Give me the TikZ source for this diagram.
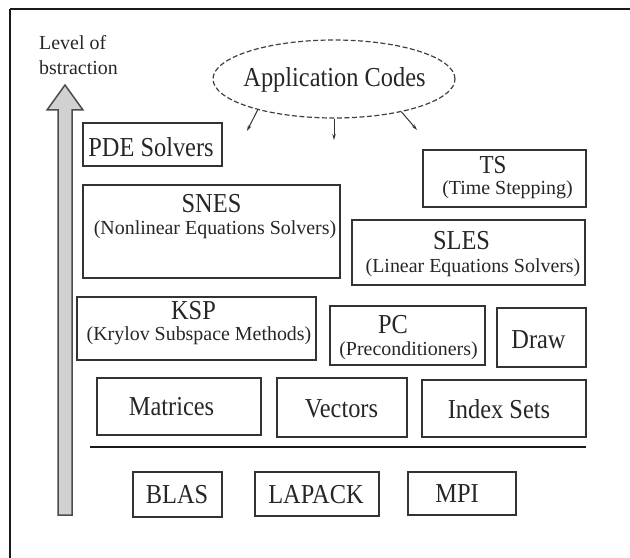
\documentclass[tikz,border=0pt]{standalone}
\usepackage{fontspec}
\setmainfont{Liberation Serif}
\newfontfamily\tallserif[FakeStretch=0.89]{Liberation Serif}
\usetikzlibrary{shapes.geometric,arrows.meta}

\tikzset{
  layer/.style 2 args={draw=black!80, line width=1.5bp, rectangle, inner sep=0pt,
    minimum width=#1, minimum height=#2},
  title/.style={anchor=base, inner sep=0pt, text=black!85,
    font=\tallserif\fontsize{27.5}{30}\selectfont},
  subtitle/.style={anchor=base, inner sep=0pt, text=black!85,
    font=\fontsize{20}{22}\selectfont},
  axislabel/.style={anchor=base west, inner sep=0pt, text=black!85,
    font=\fontsize{20}{22}\selectfont},
  appcall/.style={-{Stealth[length=6bp,width=3.5bp]}, line width=1bp, draw=black!80},
}

\begin{document}
\begin{tikzpicture}[x=1bp, y=-1bp]
  \useasboundingbox (0,0) rectangle (630,558);

  % frame edges
  \draw[line width=2bp, black!90] (10,9) -- (630,9);
  \draw[line width=1.5bp, black!90] (10,9) -- (10,558);

  % abstraction axis
  \node[axislabel] (lvl1) at (39,50) {Level of};
  \node[axislabel] (lvl2) at (39,75) {bstraction};
  \filldraw[fill=black!18, draw=black!70, line width=1.5bp, line join=miter]
    (58,515) -- (58,110) -- (47,110) -- (65,85) -- (83,110) -- (72,110) -- (72,515) -- cycle;

  % application codes
  \node[ellipse, draw=black!75, dashed, dash pattern=on 5bp off 2.5bp, line width=1.2bp,
        minimum width=242bp, minimum height=78bp, inner sep=0pt] (app) at (334,79) {};
  \node[title] (apptxt) at (334.5,87) {Application Codes};
  \coordinate (appL) at (247,131);
  \coordinate (appM) at (334,140);
  \coordinate (appR) at (417,130);
  \draw[appcall] (app.202) -- (appL);
  \draw[appcall] (app.south) -- (appM);
  \draw[appcall] (app.334) -- (appR);

  % solver layers
  \node[layer={139bp}{43bp}] (pde) at (152.5,144.5) {};
  \node[title] (pdet) at (151,157) {PDE Solvers};

  \node[layer={257bp}{93bp}] (snes) at (211.5,231.5) {};
  \node[title] (snest) at (211.5,213) {SNES};
  \node[subtitle] (sness) at (215,235) {(Nonlinear Equations Solvers)};

  \node[layer={163bp}{57bp}] (ts) at (504.5,178.5) {};
  \node[title, font=\tallserif\fontsize{26}{28}\selectfont] (tst) at (493,174) {TS};
  \node[subtitle] (tss) at (507.5,195) {(Time Stepping)};

  \node[layer={233bp}{65bp}] (sles) at (468.5,252.5) {};
  \node[title] (slest) at (461.5,250) {SLES};
  \node[subtitle] (sless) at (473,272) {(Linear Equations Solvers)};

  \node[layer={239bp}{63bp}] (ksp) at (196.5,328.5) {};
  \node[title] (kspt) at (193.5,319) {KSP};
  \node[subtitle] (ksps) at (199,340) {(Krylov Subspace Methods)};

  \node[layer={155bp}{59bp}] (pc) at (407.5,335.5) {};
  \node[title] (pct) at (393,333) {PC};
  \node[subtitle] (pcs) at (408.5,355) {(Preconditioners)};

  \node[layer={89bp}{59bp}] (drw) at (541.5,337.5) {};
  \node[title] (drwt) at (538.5,348) {Draw};

  % data objects
  \node[layer={164bp}{57bp}] (mat) at (179,406.5) {};
  \node[title] (matt) at (171.5,415) {Matrices};

  \node[layer={130bp}{59bp}] (vec) at (342,407.5) {};
  \node[title] (vect) at (341.5,417) {Vectors};

  \node[layer={164bp}{57bp}] (idx) at (504,408.5) {};
  \node[title] (idxt) at (499,418) {Index Sets};

  % separator
  \draw[line width=2.5bp, black!90] (90,447) -- (586,447);

  % external libraries
  \node[layer={89bp}{45bp}] (blas) at (177.5,494.5) {};
  \node[title] (blast) at (177,503) {BLAS};

  \node[layer={124bp}{44bp}] (lapack) at (317,494) {};
  \node[title] (lapackt) at (316,503) {LAPACK};

  \node[layer={108bp}{43bp}] (mpi) at (462,493.5) {};
  \node[title] (mpit) at (457,502) {MPI};
\end{tikzpicture}
\end{document}
